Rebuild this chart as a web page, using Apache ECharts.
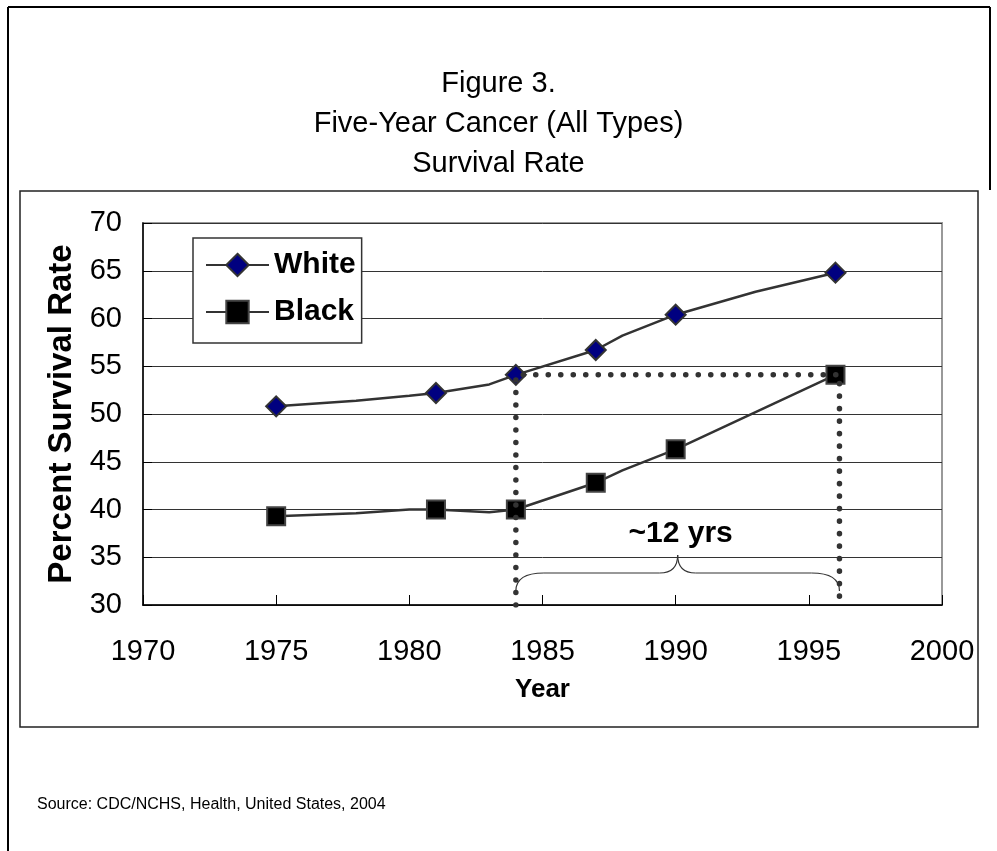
<!DOCTYPE html>
<html>
<head>
<meta charset="utf-8">
<script src="https://cdn.jsdelivr.net/npm/echarts@6/dist/echarts.min.js"></script>
<style>
    html, body { margin: 0; padding: 0; background: #fff; }
    #chart { width: 997px; height: 851px; }
</style>
</head>
<body>
<div id="chart"></div>
<script>
// data
var years      = [1975, 1978, 1980, 1981, 1983, 1984, 1987, 1988, 1990, 1993, 1996];
var whiteRate  = [50.8, 51.4, 51.9, 52.2, 53.1, 54.1, 56.7, 58.2, 60.4, 62.8, 64.8];
var blackRate  = [39.3, 39.6, 40.0, 40.0, 39.7, 40.0, 42.8, 44.1, 46.3, 50.2, 54.1];
var markerYears = [1975, 1981, 1984, 1987, 1990, 1996];
var seriesNames = ['White', 'Black'];

// the "~12 yrs" gap
var gapFrom = 1984, gapTo = 1996.15, gapLevel = 54.1, axisFloor = 30;
var gapLabel = '~12 yrs';

var FONT = "'Liberation Sans', Arial, sans-serif";

function pts(vals) {
    return years.map(function (y, i) {
        var item = { value: [y, vals[i]] };
        if (markerYears.indexOf(y) < 0) item.symbol = 'none';   // only some years get a marker
        return item;
    });
}

var chart = echarts.init(document.getElementById('chart'));

var option = {
    animation: false,
    backgroundColor: '#fff',
    title: {
        text: 'Figure 3.\nFive-Year Cancer (All Types)\nSurvival Rate',
        left: 'center',
        top: 59,
        textStyle: {
            fontFamily: FONT,
            fontSize: 29,
            fontWeight: 'normal',
            color: '#000',
            lineHeight: 40
        }
    },
    legend: {
        data: seriesNames,
        orient: 'vertical',
        left: 193,
        top: 238,
        padding: [12, 6, 16, 12],
        itemGap: 17,
        itemWidth: 63,
        itemHeight: 28,
        borderColor: '#333',
        borderWidth: 1.5,
        backgroundColor: '#fff',
        textStyle: {
            fontFamily: FONT,
            fontSize: 30,
            fontWeight: 'bold',
            color: '#000'
        }
    },
    grid: {
        left: 143,
        top: 223,
        right: 55,
        bottom: 246,
        show: true,
        borderColor: '#999',
        borderWidth: 2,
        outerBoundsMode: 'none'
    },
    xAxis: {
        type: 'value',
        min: 1970,
        max: 2000,
        interval: 5,
        name: 'Year',
        nameLocation: 'middle',
        nameGap: 72,
        nameTextStyle: { fontFamily: FONT, fontSize: 26, fontWeight: 'bold', color: '#000' },
        axisLine: { lineStyle: { color: '#000', width: 1.5 } },
        axisTick: { inside: true, length: 10, lineStyle: { color: '#000' } },
        axisLabel: {
            margin: 32,
            fontFamily: FONT,
            fontSize: 29,
            color: '#000',
            formatter: function (v) { return String(v); }
        },
        splitLine: { show: false }
    },
    yAxis: {
        type: 'value',
        min: 30,
        max: 70,
        interval: 5,
        name: 'Percent Survival Rate',
        nameLocation: 'middle',
        nameRotate: 90,
        nameGap: 56,
        nameTextStyle: { fontFamily: FONT, fontSize: 33, fontWeight: 'bold', color: '#000' },
        axisLine: { show: true, lineStyle: { color: '#000', width: 1.5 } },
        axisTick: { show: true, inside: true, length: 9, lineStyle: { color: '#000' } },
        axisLabel: { margin: 21, fontFamily: FONT, fontSize: 29, color: '#000' },
        splitLine: { show: true, lineStyle: { color: '#333', width: 1 } }
    },
    series: [
        {
            name: seriesNames[0],
            type: 'line',
            data: pts(whiteRate),
            symbol: 'diamond',
            symbolSize: 20,
            showAllSymbol: true,
            lineStyle: { color: '#333', width: 2.5 },
            itemStyle: { color: '#000080', borderColor: '#333', borderWidth: 2 },
            z: 3
        },
        {
            name: seriesNames[1],
            type: 'line',
            data: pts(blackRate),
            symbol: 'rect',
            symbolSize: 18,
            showAllSymbol: true,
            lineStyle: { color: '#333', width: 2.5 },
            itemStyle: { color: '#000', borderColor: '#444', borderWidth: 2 },
            z: 3
        },
        {
            // dotted guide showing the 12 year gap
            name: 'gap',
            type: 'line',
            data: [[gapFrom, axisFloor], [gapFrom, gapLevel], [gapTo, gapLevel], [gapTo, axisFloor]],
            symbol: 'none',
            lineStyle: { color: '#333', width: 5.5, type: [0.1, 12.4], cap: 'round' },
            silent: true,
            z: 4
        }
    ]
};
chart.setOption(option);

// brace + label, positioned from the axis scales
var p0 = chart.convertToPixel({ gridIndex: 0 }, [gapFrom, axisFloor]);
var p1 = chart.convertToPixel({ gridIndex: 0 }, [gapTo, axisFloor]);
var xa = p0[0], xb = p1[0], xc = (xa + xb) / 2;
var yEnd = p0[1] - 14, yMid = p0[1] - 32, yTip = p0[1] - 50;
var braceStyle = { fill: null, stroke: '#333', lineWidth: 1.2 };
function curve(x1, y1, cx, cy, x2, y2) {
    return { type: 'bezierCurve', shape: { x1: x1, y1: y1, cpx1: cx, cpy1: cy, x2: x2, y2: y2 }, style: braceStyle, z: 5 };
}
function seg(x1, y1, x2, y2) {
    return { type: 'line', shape: { x1: x1, y1: y1, x2: x2, y2: y2 }, style: braceStyle, z: 5 };
}

chart.setOption({
    graphic: [
        // page frame
        { type: 'line', shape: { x1: 8, y1: 7, x2: 8, y2: 851 }, style: { stroke: '#000', lineWidth: 2 } },
        { type: 'line', shape: { x1: 8, y1: 7, x2: 990, y2: 7 }, style: { stroke: '#000', lineWidth: 2 } },
        { type: 'line', shape: { x1: 990, y1: 7, x2: 990, y2: 190 }, style: { stroke: '#000', lineWidth: 2 } },
        // chart frame
        { type: 'rect', shape: { x: 20, y: 191, width: 958, height: 536 }, style: { fill: null, stroke: '#222', lineWidth: 1.5 }, z: -1 },
        // curly brace
        curve(xa, yEnd, xa, yMid, xa + 28, yMid),
        seg(xa + 28, yMid, xc - 18, yMid),
        curve(xc - 18, yMid, xc, yMid, xc, yTip),
        curve(xc, yTip, xc, yMid, xc + 18, yMid),
        seg(xc + 18, yMid, xb - 28, yMid),
        curve(xb - 28, yMid, xb, yMid, xb, yEnd),
        {
            type: 'text', x: xc + 3, y: yTip - 21,
            style: { text: gapLabel, font: 'bold 30px ' + FONT, fill: '#000', textAlign: 'center', textVerticalAlign: 'middle' },
            z: 5
        },
        {
            type: 'text', x: 37, y: 805,
            style: { text: 'Source: CDC/NCHS, Health, United States, 2004', font: '16px ' + FONT, fill: '#000', textVerticalAlign: 'middle' }
        }
    ]
});
</script>
</body>
</html>
